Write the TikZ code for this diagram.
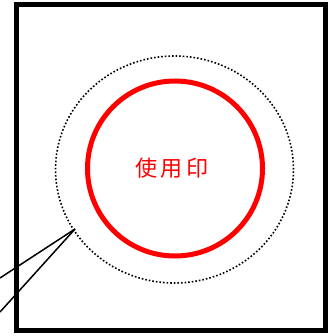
\documentclass[tikz,border=0pt]{standalone}
\usepackage{fontspec}
\usetikzlibrary{shapes.geometric}
\newfontfamily\cjk{Noto Sans CJK JP}
\begin{document}
\begin{tikzpicture}[x=1pt, y=-1pt]
\useasboundingbox (0, 0) rectangle (332, 336);
\draw[line width=5pt] (16.5, 5) rectangle (325.5, 330.5);
\node (O) at (174.5, 169.5) [draw=black, dotted, line width=1.6pt, ellipse, minimum width=238pt, minimum height=227pt, inner sep=0pt] {};
\node (S) at (175, 168.5) [circle, draw=red, line width=5pt, minimum size=175pt, inner sep=0pt] {};
\node (T) at (172, 168) [text=red, font=\cjk\fontsize{22}{22}\selectfont] {使\hspace{4pt}用\hspace{4pt}印};

\coordinate (P) at (75, 229);
\coordinate (A) at (0, 278);
\coordinate (B) at (0, 312);
\draw[line width=1.5pt] (A) to (P);
\draw[line width=1.5pt] (B) to (P);
\end{tikzpicture}
\end{document}
